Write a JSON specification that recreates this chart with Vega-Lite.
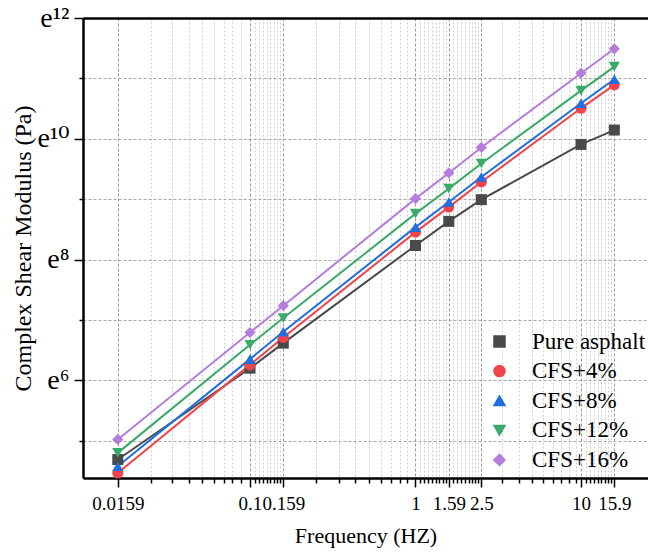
{
  "$schema": "https://vega.github.io/schema/vega-lite/v6.json",
  "width": 565,
  "height": 460,
  "autosize": {"type": "none"},
  "padding": {"left": 83, "top": 18, "right": 0, "bottom": 75},
  "background": "white",
  "config": {"view": {"stroke": null}, "font": "Liberation Serif"},
  "data": {"values": [
    {"series": "Pure asphalt", "freq": 0.0159, "G": 109.0},
    {"series": "Pure asphalt", "freq": 0.1, "G": 494},
    {"series": "Pure asphalt", "freq": 0.159, "G": 748},
    {"series": "Pure asphalt", "freq": 1, "G": 3767},
    {"series": "Pure asphalt", "freq": 1.59, "G": 5614},
    {"series": "Pure asphalt", "freq": 2.5, "G": 8047},
    {"series": "Pure asphalt", "freq": 10, "G": 20070},
    {"series": "Pure asphalt", "freq": 15.9, "G": 25464},
    {"series": "CFS+4%", "freq": 0.0159, "G": 87.2},
    {"series": "CFS+4%", "freq": 0.1, "G": 522},
    {"series": "CFS+4%", "freq": 0.159, "G": 821},
    {"series": "CFS+4%", "freq": 1, "G": 4699},
    {"series": "CFS+4%", "freq": 1.59, "G": 7115},
    {"series": "CFS+4%", "freq": 2.5, "G": 10786},
    {"series": "CFS+4%", "freq": 10, "G": 36497},
    {"series": "CFS+4%", "freq": 15.9, "G": 53745},
    {"series": "CFS+8%", "freq": 0.0159, "G": 97.5},
    {"series": "CFS+8%", "freq": 0.1, "G": 574},
    {"series": "CFS+8%", "freq": 0.159, "G": 903},
    {"series": "CFS+8%", "freq": 1, "G": 5105},
    {"series": "CFS+8%", "freq": 1.59, "G": 7739},
    {"series": "CFS+8%", "freq": 2.5, "G": 11720},
    {"series": "CFS+8%", "freq": 10, "G": 39656},
    {"series": "CFS+8%", "freq": 15.9, "G": 59101},
    {"series": "CFS+12%", "freq": 0.0159, "G": 121.6},
    {"series": "CFS+12%", "freq": 0.1, "G": 728},
    {"series": "CFS+12%", "freq": 0.159, "G": 1133},
    {"series": "CFS+12%", "freq": 1, "G": 6381},
    {"series": "CFS+12%", "freq": 1.59, "G": 9662},
    {"series": "CFS+12%", "freq": 2.5, "G": 14633},
    {"series": "CFS+12%", "freq": 10, "G": 48874},
    {"series": "CFS+12%", "freq": 15.9, "G": 72838},
    {"series": "CFS+16%", "freq": 0.0159, "G": 151.9},
    {"series": "CFS+16%", "freq": 0.1, "G": 892},
    {"series": "CFS+16%", "freq": 0.159, "G": 1391},
    {"series": "CFS+16%", "freq": 1, "G": 8185},
    {"series": "CFS+16%", "freq": 1.59, "G": 12519},
    {"series": "CFS+16%", "freq": 2.5, "G": 19092},
    {"series": "CFS+16%", "freq": 10, "G": 65251},
    {"series": "CFS+16%", "freq": 15.9, "G": 97734}
  ]},
  "layer": [
    {
      "mark": {"type": "line", "strokeWidth": 2},
      "encoding": {
        "x": {
          "field": "freq", "type": "quantitative",
          "scale": {"type": "log", "domain": [0.0098, 25.4], "nice": false},
          "axis": {
            "orient": "bottom",
            "values": [0.0159, 0.0251, 0.034, 0.0428, 0.0515, 0.0606, 0.0697, 0.0782, 0.0879, 0.1, 0.1066, 0.1131, 0.1197, 0.1262, 0.1328, 0.1393, 0.1459, 0.1524, 0.159, 0.251, 0.343, 0.434, 0.526, 0.618, 0.71, 0.802, 0.893, 1, 1.066, 1.131, 1.197, 1.262, 1.328, 1.393, 1.459, 1.524, 1.59, 1.691, 1.792, 1.893, 1.994, 2.096, 2.197, 2.298, 2.399, 2.5, 3.35, 4.2, 5.05, 5.9, 6.75, 7.6, 8.45, 9.3, 10, 10.66, 11.31, 11.97, 12.62, 13.28, 13.93, 14.59, 15.24, 15.9],
            "labelExpr": "indexof([0.0159, 0.1, 0.159, 1, 1.59, 2.5, 10, 15.9], datum.value) >= 0 ? '' + datum.value : ''",
            "labelOverlap": false,
            "labelBound": false,
            "labelFlush": false,
            "labelFontSize": 19,
            "labelColor": "black",
            "labelPadding": 7,
            "tickSize": {"condition": {"test": "indexof([0.0159, 0.1, 0.159, 1, 1.59, 2.5, 10, 15.9], datum.value) >= 0", "value": 9}, "value": 5},
            "tickColor": "black",
            "tickWidth": 1.5,
            "domainColor": "black",
            "domainWidth": 2.5,
            "grid": true,
            "gridColor": {"condition": {"test": "indexof([0.0159, 0.1, 0.159, 1, 1.59, 2.5, 10, 15.9], datum.value) >= 0", "value": "#9a9a9a"}, "value": "#cfcfcf"},
            "gridDash": {"condition": {"test": "indexof([0.0159, 0.1, 0.159, 1, 1.59, 2.5, 10, 15.9], datum.value) >= 0", "value": [3, 2]}, "value": [2, 2]},
            "gridWidth": 1,
            "title": "Frequency (HZ)",
            "titleFontSize": 22,
            "titleFontWeight": "normal",
            "titleColor": "black",
            "titlePadding": 12
          }
        },
        "y": {
          "field": "G", "type": "quantitative",
          "scale": {"type": "log", "domain": [80.24, 162754.79], "nice": false},
          "axis": {
            "values": [148.41316, 403.42879, 1096.6332, 2980.958, 8103.0839, 22026.466, 59874.142, 162754.79],
            "labelExpr": "round(log(datum.value)) == 6 ? 'e⁶' : round(log(datum.value)) == 8 ? 'e⁸' : round(log(datum.value)) == 10 ? 'e¹⁰' : round(log(datum.value)) == 12 ? 'e¹²' : ''",
            "labelOverlap": false,
            "labelBound": false,
            "labelFlush": false,
            "labelFont": "Liberation Serif, DejaVu Serif",
            "labelFontSize": 28,
            "labelColor": "black",
            "labelPadding": 5,
            "tickSize": {"condition": {"test": "round(log(datum.value)) % 2 == 0", "value": 9}, "value": 4},
            "tickColor": "black",
            "tickWidth": 1.5,
            "domainColor": "black",
            "domainWidth": 2.5,
            "grid": true,
            "gridColor": "#a8a8a8",
            "gridDash": [3, 2],
            "gridWidth": 1,
            "title": "Complex Shear Modulus (Pa)",
            "titleFontSize": 24,
            "titleFontWeight": "normal",
            "titleColor": "black",
            "titlePadding": 1
          }
        },
        "color": {
          "field": "series", "type": "nominal",
          "scale": {"domain": ["Pure asphalt", "CFS+4%", "CFS+8%", "CFS+12%", "CFS+16%"], "range": ["#4a4a4a", "#f0444a", "#1e6fe0", "#3aaa68", "#b47ddc"]}
        }
      }
    },
    {
      "mark": {"type": "point", "filled": true, "opacity": 1},
      "encoding": {
        "x": {
          "field": "freq", "type": "quantitative",
          "scale": {"type": "log", "domain": [0.0098, 25.4], "nice": false},
          "axis": {"orient": "top", "labels": false, "ticks": false, "grid": false, "title": null, "domainColor": "black", "domainWidth": 2.5}
        },
        "y": {"field": "G", "type": "quantitative", "scale": {"type": "log", "domain": [80.24, 162754.79], "nice": false}},
        "color": {
          "field": "series", "type": "nominal",
          "scale": {"domain": ["Pure asphalt", "CFS+4%", "CFS+8%", "CFS+12%", "CFS+16%"], "range": ["#4a4a4a", "#f0444a", "#1e6fe0", "#3aaa68", "#b47ddc"]},
          "legend": {
            "title": null,
            "orient": "none",
            "legendX": 379,
            "legendY": 312,
            "padding": 0,
            "labelFontSize": 23,
            "labelFont": "Liberation Serif",
            "labelColor": "black",
            "labelLimit": 300,
            "rowPadding": 5.6,
            "symbolSize": 144,
            "symbolOffset": 26,
            "labelOffset": 21,
            "encode": {
              "symbols": {
                "shape": {"value": {"expr": "datum.value == 'Pure asphalt' ? 'M-4.4,-0.17H4.4V0.17H-4.4ZM-0.92,-0.92H0.92V0.92H-0.92Z' : datum.value == 'CFS+4%' ? 'M-4.4,-0.17H4.4V0.17H-4.4ZM1,0A1,1,0,1,1,-1,0A1,1,0,1,1,1,0Z' : datum.value == 'CFS+8%' ? 'M-4.4,-0.17H4.4V0.17H-4.4ZM0,-1.12L1.17,0.9H-1.17Z' : datum.value == 'CFS+12%' ? 'M-4.4,-0.17H4.4V0.17H-4.4ZM0,1.12L-1.17,-0.9H1.17Z' : 'M-4.4,-0.17H4.4V0.17H-4.4ZM0,-1.25L1.25,0L0,1.25L-1.25,0Z'"}},
                "fill": {"value": {"expr": "scale('color', datum.value)"}},
                "size": {"value": 144},
                "opacity": {"value": 1}
              }
            }
          }
        },
        "shape": {
          "field": "series", "type": "nominal",
          "scale": {"domain": ["Pure asphalt", "CFS+4%", "CFS+8%", "CFS+12%", "CFS+16%"], "range": ["square", "circle", "triangle-up", "triangle-down", "diamond"]},
          "legend": null
        },
        "size": {
          "field": "series", "type": "nominal",
          "scale": {"domain": ["Pure asphalt", "CFS+4%", "CFS+8%", "CFS+12%", "CFS+16%"], "range": [121, 125, 180, 180, 200]},
          "legend": null
        }
      }
    }
  ]
}
